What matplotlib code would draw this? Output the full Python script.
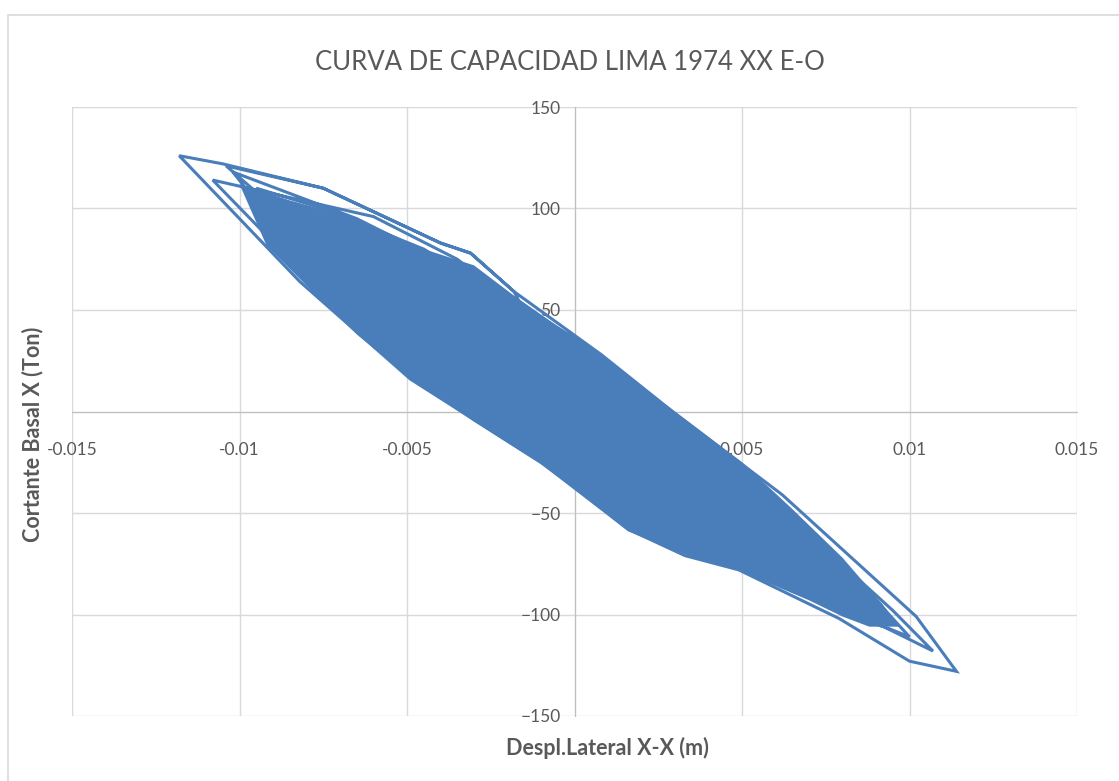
import numpy as np
import matplotlib
matplotlib.use('Agg')
import matplotlib.pyplot as plt
from matplotlib.patches import Rectangle

# Desplazamiento lateral (m) y cortante basal (Ton)
despl = [
    # ciclo exterior
    0.0000, -0.0018, -0.0031, -0.0040, -0.0075, -0.0105, -0.0118,
    -0.0082, -0.0049, -0.0010, 0.0016, 0.0033, 0.0049, 0.0079, 0.0100, 0.0114,
    0.0102, 0.0084, 0.0062, 0.0030, 0.0008, -0.0018, -0.0031, -0.0040, -0.0075, -0.0104,
    # ciclo A
    -0.0088, -0.0068, -0.0045, -0.0012, 0.0020, 0.0050, 0.0080, 0.0107,
    0.0095, 0.0075, 0.0050, 0.0025, 0.0000, -0.0025, -0.0035, -0.0060, -0.0108,
    # ciclo B
    -0.0085, -0.0060, -0.0030, 0.0005, 0.0030, 0.0065, 0.0100,
    0.0090, 0.0068, 0.0040, 0.0015, -0.0012, -0.0030, -0.0065, -0.0102,
    # ciclo C
    -0.0080, -0.0055, -0.0020, 0.0010, 0.0045, 0.0075, 0.0092,
    0.0080, 0.0060, 0.0030, 0.0005, -0.0020, -0.0045, -0.0075, -0.0095,
    # ciclo D
    -0.0075, -0.0040, -0.0010, 0.0025, 0.0060, 0.0088,
    0.0078, 0.0050, 0.0020, -0.0010, -0.0040, -0.0070, -0.0088,
    # ciclo E
    -0.0065, -0.0035, 0.0000, 0.0035, 0.0070, 0.0085,
    0.0070, 0.0042, 0.0010, -0.0020, -0.0050, -0.0080,
    # ciclos menores
    -0.0055, -0.0025, 0.0010, 0.0045, 0.0075,
    0.0060, 0.0030, 0.0000, -0.0030, -0.0065,
    -0.0040, -0.0010, 0.0025, 0.0060,
    0.0048, 0.0020, -0.0010, -0.0040, -0.0055,
    -0.0030, 0.0000, 0.0030, 0.0050,
    0.0035, 0.0005, -0.0025, -0.0045,
    -0.0020, 0.0015, 0.0040,
    0.0020, -0.0010, -0.0035,
    -0.0010, 0.0020, 0.0010, -0.0020,
]
cortante = [
    0, 59, 78, 83, 110, 122, 126,
    64, 16, -25, -58, -71, -78, -102, -123, -128,
    -101, -74, -41, -1, 28, 59, 78, 83, 110, 121,
    98, 68, 35, -12, -50, -73, -96, -118,
    -98, -68, -30, 5, 36, 62, 75, 96, 114,
    75, 40, 5, -35, -62, -88, -111,
    -93, -60, -18, 15, 45, 66, 95, 118,
    72, 35, -8, -42, -72, -95, -106,
    -84, -50, -8, 25, 55, 80, 100, 110,
    70, 25, -12, -52, -82, -103,
    -80, -38, 0, 38, 70, 92, 100,
    62, 22, -20, -58, -88, -100,
    -70, -28, 12, 45, 72, 92,
    52, 12, -28, -65, -90,
    -60, -18, 18, 50, 80,
    40, 2, -38, -75,
    -48, -10, 25, 55, 68,
    30, -8, -42, -62,
    -32, 5, 38, 58,
    18, -22, -50,
    -18, 15, 45,
    5, -28, -10, 25,
]

# zona densa de ciclos (contorno)
nucleo_x = [-0.0100, -0.0085, -0.0065, -0.0045, -0.0030, -0.0018, 0.0008, 0.0030,
            0.0050, 0.0065, 0.0080, 0.0092, 0.0097,
            0.0088, 0.0080, 0.0070, 0.0050, 0.0034, 0.0016, 0.0000, -0.0010,
            -0.0030, -0.0048, -0.0065, -0.0080, -0.0092]
nucleo_y = [112, 104, 95, 80, 72, 57, 27, 0,
            -25, -48, -72, -95, -106,
            -106, -101, -93, -79, -71, -59, -38, -26,
            -5, 15, 38, 62, 82]

xticks = [-0.015, -0.01, -0.005, 0, 0.005, 0.01, 0.015]
xlabels = ['-0.015', '-0.01', '-0.005', '0', '0.005', '0.01', '0.015']
yticks = [-150, -100, -50, 0, 50, 100, 150]

plt.rcParams['font.family'] = ['Lato', 'DejaVu Sans']
azul = '#4a7ebb'
gris = '#595959'

fig = plt.figure(figsize=(11.19, 7.81), dpi=100)
ax = fig.add_axes([72/1119, 1 - 716/781, (1077 - 72)/1119, (716 - 107)/781])

fig.patches.append(Rectangle((8/1119, -0.1), 1.2, 1 - 15/781 + 0.1,
                             transform=fig.transFigure, fill=False,
                             edgecolor='#d9d9d9', lw=1.2))

for v in xticks:
    ax.axvline(v, color='#d9d9d9', lw=1, zorder=0)
for v in yticks:
    ax.axhline(v, color='#d9d9d9', lw=1, zorder=0)

ax.fill(nucleo_x, nucleo_y, color=azul, lw=0, zorder=1.8)
ax.plot(despl, cortante, color=azul, lw=2.2, solid_joinstyle='miter', zorder=2)

ax.set_xlim(-0.015, 0.015)
ax.set_ylim(-150, 150)
ax.set_xticks(xticks)
ax.set_xticklabels(xlabels)
ax.set_yticks(yticks)

for s in ['top', 'right']:
    ax.spines[s].set_visible(False)
ax.spines['left'].set_position(('data', 0))
ax.spines['bottom'].set_position(('data', 0))
for s in ['left', 'bottom']:
    ax.spines[s].set_color('#bfbfbf')
    ax.spines[s].set_zorder(1)

ax.tick_params(axis='x', length=0, pad=22, labelsize=12.5, labelcolor=gris)
ax.tick_params(axis='y', length=0, pad=10, labelsize=12.5, labelcolor=gris)

fig.text(570/1119, 1 - 62/781, 'CURVA DE CAPACIDAD LIMA 1974 XX E-O',
         ha='center', va='center', fontsize=18.5, color=gris)
fig.text(607/1119, 1 - 748/781, 'Despl.Lateral X-X (m)', ha='center', va='center',
         fontsize=15.5, fontweight='bold', color=gris)
fig.text(33/1119, 1 - 434/781, 'Cortante Basal X (Ton)', ha='center', va='center',
         rotation=90, fontsize=15.5, fontweight='bold', color=gris)

fig.savefig('out.png', dpi=100, facecolor='white')
